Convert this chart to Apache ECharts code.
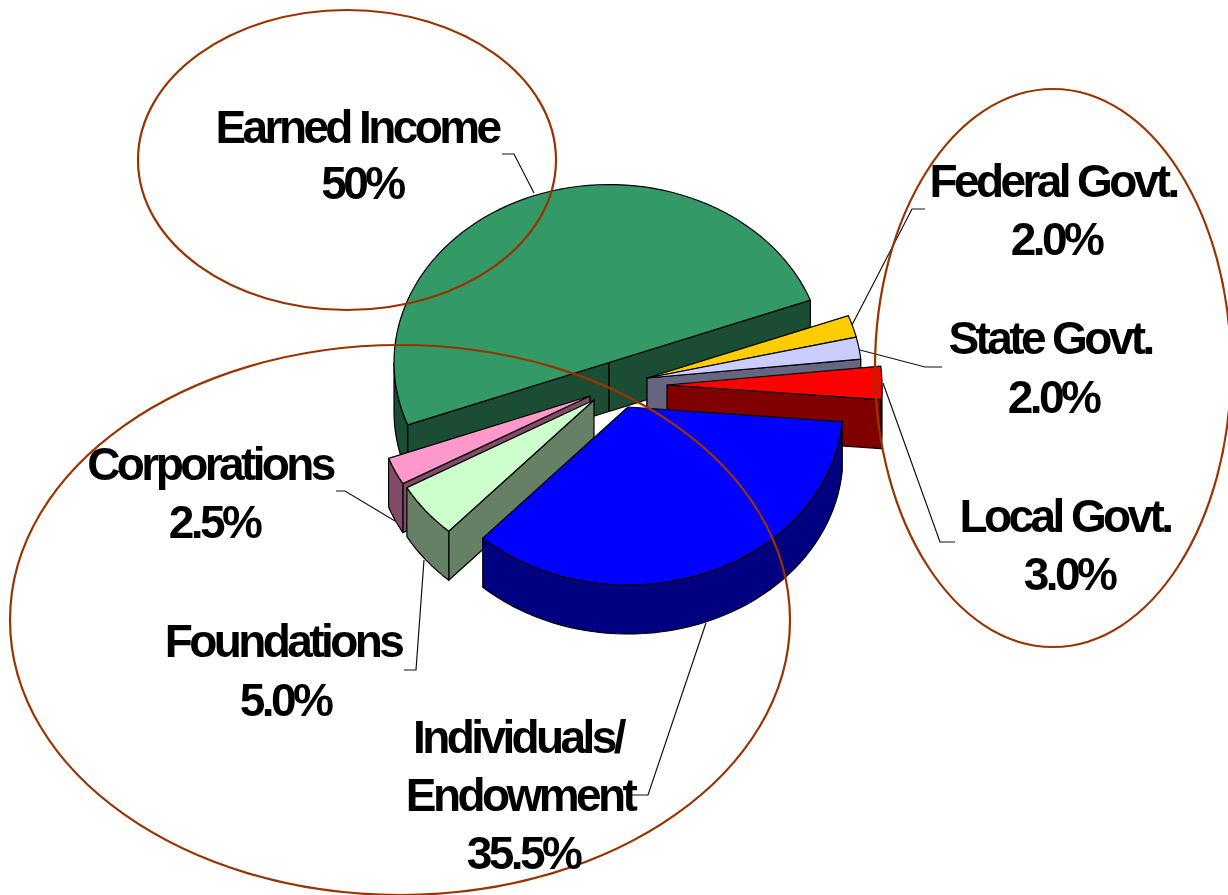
<!DOCTYPE html>
<html><head><meta charset="utf-8">
<script src="https://cdn.jsdelivr.net/npm/echarts@6/dist/echarts.min.js"></script>
<style>html,body{margin:0;padding:0;background:#fff}#c{width:1228px;height:895px}</style>
</head><body><div id="c"></div>
<script>
var categories = ['Earned Income','Federal Govt.','State Govt.','Local Govt.','Individuals/\nEndowment','Foundations','Corporations'];
var shares = [50,2,2,3,35.5,5,2.5];
var shareLabels = ['50%','2.0%','2.0%','3.0%','35.5%','5.0%','2.5%'];
var topColors = ['#339966','#ffcc00','#ccccff','#ff0000','#0000ff','#ccffcc','#ff99cc'];
var wallColors = ['#1a4d33','#806600','#666680','#800000','#000080','#668066','#804c66'];

// presentation geometry
var RX=215, RY=178, DEPTH=49, START=159.5;
var apexes=[[609,362.5],[647,378],[647,378],[667,385],[628,407],[594,400],[590,396]];
var drawOrder=[0,1,2,3,6,5,4];
var labelPos=[
 [[357,130],[362,186]],
 [[1053,184],[1056,242]],
 [[1050,341],[1053,400]],
 [[1065,519],[1069,577]],
 [[518,740],[520,798],[523,856]],
 [[283,644],[285,703]],
 [[210,467],[214,525]]
];
var leaders=[
 [[502,154],[514,154],[534,193]],
 [[925,209],[912,209],[852,325]],
 [[942,367],[925,367],[860,350]],
 [[955,542],[940,542],[883,383]],
 [[632,795],[648,795],[706,623]],
 [[404,670],[416,670],[424,560]],
 [[336,491],[345,491],[395,521]]
];
var rings=[[347,160,209,150],[1053,368,178,279],[400,620,390,275]];

// the reference's labels are set very tight; the canvas spacing is applied at draw time
var nativeFillText=CanvasRenderingContext2D.prototype.fillText;
CanvasRenderingContext2D.prototype.fillText=function(){this.letterSpacing='-3.6px';return nativeFillText.apply(this,arguments);};
var nativeStrokeText=CanvasRenderingContext2D.prototype.strokeText;
CanvasRenderingContext2D.prototype.strokeText=function(){this.letterSpacing='-3.6px';return nativeStrokeText.apply(this,arguments);};

var total=shares.reduce(function(a,b){return a+b},0);
var spans=[],acc=START;
shares.forEach(function(v){var s=v/total*360;spans.push([acc,acc+s]);acc+=s;});

function pt(a,t){var r=t*Math.PI/180;return [a[0]+RX*Math.cos(r),a[1]+RY*Math.sin(r)];}
function down(p){return [p[0],p[1]+DEPTH];}
function arc(a,t0,t1){var n=Math.max(2,Math.ceil((t1-t0)/2.5)),o=[];for(var i=0;i<=n;i++)o.push(pt(a,t0+(t1-t0)*i/n));return o;}
function poly(points,fill){return {type:'polygon',shape:{points:points},style:{fill:fill,stroke:'#000',lineWidth:1.2,lineJoin:'round'}};}

function renderItem(params,api){
  var i=api.value(0),a=apexes[i],t0=spans[i][0],t1=spans[i][1],wall=wallColors[i],kids=[];
  var c0=Math.cos(t0*Math.PI/180),c1=Math.cos(t1*Math.PI/180);
  if(c0<0){var p=pt(a,t0);kids.push(poly([a,p,down(p),down(a)],wall));}
  if(c1>0){var q=pt(a,t1);kids.push(poly([a,q,down(q),down(a)],wall));}
  [[0,180],[360,540]].forEach(function(r){
    var s=Math.max(t0,r[0]),e=Math.min(t1,r[1]);
    if(e>s){var up=arc(a,s,e);kids.push(poly(up.concat(up.slice().reverse().map(down)),wall));}
  });
  kids.push(poly([a].concat(arc(a,t0,t1)),topColors[i]));
  return {type:'group',children:kids};
}

var graphics=[];
var font='bold 46px "Liberation Sans", Arial, sans-serif';
leaders.forEach(function(l){graphics.push({type:'polyline',silent:true,shape:{points:l},style:{fill:null,stroke:'#111',lineWidth:1.2},z:5});});
rings.forEach(function(r){graphics.push({type:'ellipse',silent:true,shape:{cx:r[0],cy:r[1],rx:r[2],ry:r[3]},style:{fill:null,stroke:'#993300',lineWidth:2.2},z:6});});
categories.forEach(function(name,i){
  var lines=name.split('\n').concat([shareLabels[i]]);
  lines.forEach(function(t,j){
    graphics.push({type:'text',silent:true,x:labelPos[i][j][0],y:labelPos[i][j][1],z:7,
      style:{text:t,font:font,fill:'#000',align:'center',verticalAlign:'middle'}});
  });
});

var chart=echarts.init(document.getElementById('c'),null,{renderer:'canvas',devicePixelRatio:1});
chart.setOption({
  animation:false,backgroundColor:'#fff',
  series:[{type:'custom',coordinateSystem:'none',silent:true,renderItem:renderItem,
    data:drawOrder.map(function(i){return [i,shares[i]];})}],
  graphic:{elements:graphics}
});
</script></body></html>
